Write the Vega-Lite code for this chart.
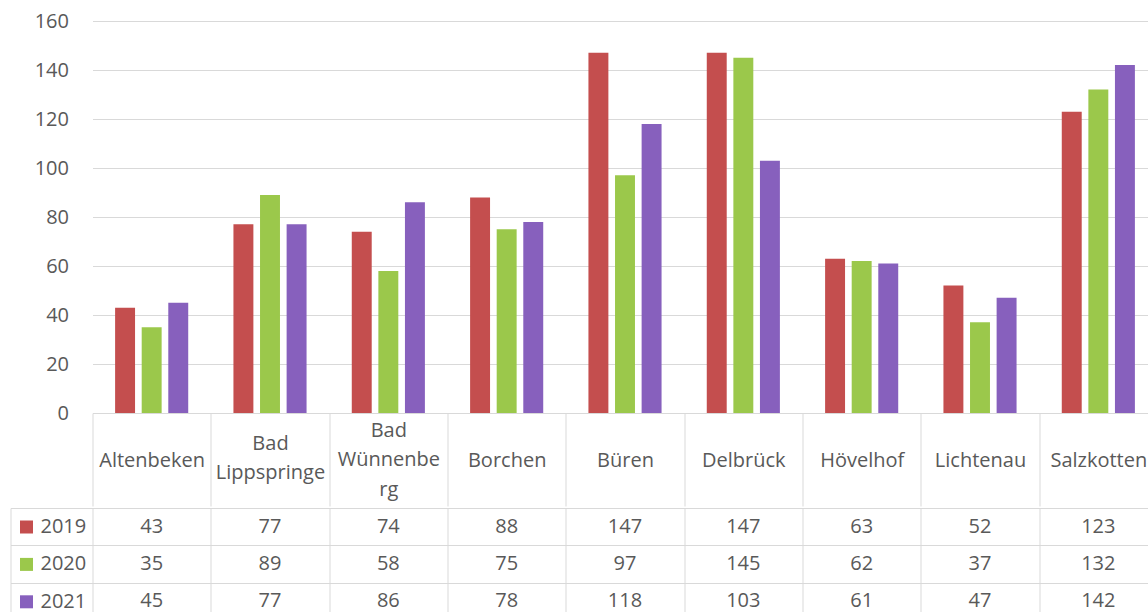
{
  "$schema": "https://vega.github.io/schema/vega-lite/v6.json",
  "padding": {"top": 11, "left": 9.5, "right": 0, "bottom": 0},
  "background": "white",
  "config": {
    "font": "Open Sans",
    "view": {"stroke": null},
    "concat": {"spacing": 0}
  },
  "datasets": {
    "werte": [
      {"Gemeinde": "Altenbeken", "Jahr": "2019", "Wert": 43},
      {"Gemeinde": "Altenbeken", "Jahr": "2020", "Wert": 35},
      {"Gemeinde": "Altenbeken", "Jahr": "2021", "Wert": 45},
      {"Gemeinde": "Bad Lippspringe", "Jahr": "2019", "Wert": 77},
      {"Gemeinde": "Bad Lippspringe", "Jahr": "2020", "Wert": 89},
      {"Gemeinde": "Bad Lippspringe", "Jahr": "2021", "Wert": 77},
      {"Gemeinde": "Bad Wünnenberg", "Jahr": "2019", "Wert": 74},
      {"Gemeinde": "Bad Wünnenberg", "Jahr": "2020", "Wert": 58},
      {"Gemeinde": "Bad Wünnenberg", "Jahr": "2021", "Wert": 86},
      {"Gemeinde": "Borchen", "Jahr": "2019", "Wert": 88},
      {"Gemeinde": "Borchen", "Jahr": "2020", "Wert": 75},
      {"Gemeinde": "Borchen", "Jahr": "2021", "Wert": 78},
      {"Gemeinde": "Büren", "Jahr": "2019", "Wert": 147},
      {"Gemeinde": "Büren", "Jahr": "2020", "Wert": 97},
      {"Gemeinde": "Büren", "Jahr": "2021", "Wert": 118},
      {"Gemeinde": "Delbrück", "Jahr": "2019", "Wert": 147},
      {"Gemeinde": "Delbrück", "Jahr": "2020", "Wert": 145},
      {"Gemeinde": "Delbrück", "Jahr": "2021", "Wert": 103},
      {"Gemeinde": "Hövelhof", "Jahr": "2019", "Wert": 63},
      {"Gemeinde": "Hövelhof", "Jahr": "2020", "Wert": 62},
      {"Gemeinde": "Hövelhof", "Jahr": "2021", "Wert": 61},
      {"Gemeinde": "Lichtenau", "Jahr": "2019", "Wert": 52},
      {"Gemeinde": "Lichtenau", "Jahr": "2020", "Wert": 37},
      {"Gemeinde": "Lichtenau", "Jahr": "2021", "Wert": 47},
      {"Gemeinde": "Salzkotten", "Jahr": "2019", "Wert": 123},
      {"Gemeinde": "Salzkotten", "Jahr": "2020", "Wert": 132},
      {"Gemeinde": "Salzkotten", "Jahr": "2021", "Wert": 142}
    ]
  },
  "resolve": {"scale": {"color": "independent"}, "legend": {"color": "independent"}},
  "vconcat": [
    {
      "width": 1065,
      "height": 392,
      "data": {"name": "werte"},
      "mark": {"type": "bar"},
      "encoding": {
        "x": {
          "field": "Gemeinde",
          "type": "nominal",
          "sort": null,
          "scale": {"paddingInner": 0, "paddingOuter": 0},
          "axis": {
            "title": null,
            "orient": "bottom",
            "domain": true,
            "domainColor": "#d9d9d9",
            "domainWidth": 1,
            "ticks": true,
            "tickBand": "extent",
            "tickSize": 93,
            "tickColor": "#d9d9d9",
            "grid": false,
            "labelPadding": {
              "condition": [
                {"test": "datum.value == 'Bad Wünnenberg'", "value": -76},
                {"test": "datum.value == 'Bad Lippspringe'", "value": -63}
              ],
              "value": -46
            },
            "labelBaseline": "middle",
            "labelAngle": 0,
            "labelFontSize": 20,
            "labelColor": "#595959",
            "labelLineHeight": 29.5,
            "labelOverlap": false,
            "labelExpr": "datum.value == 'Bad Lippspringe' ? ['Bad', 'Lippspringe'] : datum.value == 'Bad Wünnenberg' ? ['Bad', 'Wünnenbe', 'rg'] : datum.label"
          }
        },
        "xOffset": {
          "field": "Jahr",
          "type": "nominal",
          "scale": {"paddingInner": 0.25, "paddingOuter": 0.85}
        },
        "y": {
          "field": "Wert",
          "type": "quantitative",
          "scale": {"domain": [0, 160], "nice": false},
          "axis": {
            "title": null,
            "values": [0, 20, 40, 60, 80, 100, 120, 140, 160],
            "domain": false,
            "ticks": false,
            "grid": true,
            "gridColor": "#d9d9d9",
            "labelPadding": 24,
            "labelFontSize": 20,
            "labelColor": "#595959"
          }
        },
        "color": {
          "field": "Jahr",
          "type": "nominal",
          "scale": {"domain": ["2019", "2020", "2021"], "range": ["#c44e4e", "#9bc84b", "#8760bd"]},
          "legend": null
        }
      }
    },
    {
      "width": 1065,
      "height": 112,
      "data": {"name": "werte"},
      "encoding": {
        "x": {
          "field": "Gemeinde",
          "type": "nominal",
          "sort": null,
          "scale": {"paddingInner": 0, "paddingOuter": 0},
          "axis": {
            "title": null,
            "labels": false,
            "ticks": false,
            "domain": false,
            "grid": true,
            "tickBand": "extent",
            "gridColor": "#d9d9d9"
          }
        },
        "y": {
          "field": "Jahr",
          "type": "nominal",
          "sort": ["2019", "2020", "2021"],
          "scale": {"paddingInner": 0, "paddingOuter": 0},
          "axis": {
            "title": null,
            "labels": false,
            "offset": 82,
            "domain": true,
            "domainColor": "#d9d9d9",
            "ticks": true,
            "tickSize": -82,
            "tickColor": "#d9d9d9",
            "tickBand": "extent",
            "grid": true,
            "gridColor": "#d9d9d9"
          }
        }
      },
      "layer": [
        {
          "mark": {"type": "text", "fontSize": 20, "color": "#595959", "baseline": "middle"},
          "encoding": {"text": {"field": "Wert", "type": "quantitative"}}
        },
        {
          "mark": {"type": "square", "opacity": 0},
          "encoding": {
            "color": {
              "field": "Jahr",
              "type": "nominal",
              "scale": {"domain": ["2019", "2020", "2021"], "range": ["#c44e4e", "#9bc84b", "#8760bd"]},
              "legend": {
                "title": null,
                "orient": "none",
                "legendX": -76,
                "legendY": 9,
                "padding": 0,
                "symbolType": "square",
                "symbolSize": 169,
                "symbolOpacity": 1,
                "symbolStrokeWidth": 0,
                "labelOffset": 4,
                "labelFontSize": 20,
                "labelColor": "#595959",
                "rowPadding": 17.4
              }
            }
          }
        }
      ]
    }
  ]
}
